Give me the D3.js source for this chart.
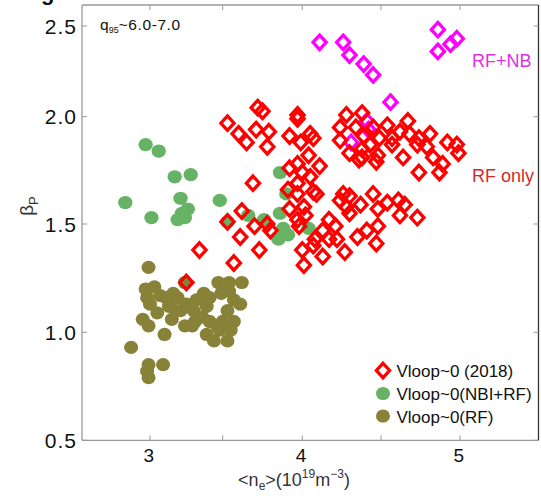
<!DOCTYPE html>
<html><head><meta charset="utf-8">
<script src="https://cdn.jsdelivr.net/npm/d3@7"></script>
<style>
html,body{margin:0;padding:0;background:#fff;}
svg{display:block;font-family:"Liberation Sans",Arial,Helvetica,sans-serif;}
</style></head>
<body>
<svg id="chart" width="541" height="501"></svg>
<script>
// ---- data: [ <n_e> (1e19 m^-3), beta_P ] ----
const rfOnly = [ // Vloop~0(RF), olive
 [2.99,1.30],[2.97,1.20],[3.03,1.21],[2.98,1.16],[3.07,1.17],[3.11,1.16],[3.16,1.18],[3.19,1.16],
 [3.13,1.12],[3.15,1.06],[3.21,1.10],[3.24,1.23],[3.25,1.13],[3.30,1.10],[3.24,1.03],[3.31,1.05],
 [3.37,1.18],[3.39,1.12],[3.36,1.07],[3.41,1.05],[3.47,1.23],[3.54,1.23],[3.62,1.23],[3.49,1.18],
 [3.57,1.15],[3.61,1.13],[3.53,1.10],[3.57,1.05],[3.50,1.05],[3.46,1.03],[3.39,0.99],[3.44,0.96],
 [3.53,0.96],[3.48,1.01],[2.95,1.06],[2.99,1.03],[3.10,0.99],[2.87,0.93],[2.99,0.85],[3.09,0.85],
 [2.98,0.82],[2.99,0.79],[3.00,1.13],[3.05,1.09],[3.18,1.10],[3.32,1.15],[3.41,1.16],[3.54,1.19],
 [3.55,1.01],[3.29,1.03]
];
const nbiRf = [ // Vloop~0(NBI+RF), green
 [2.97,1.87],[3.06,1.84],[3.17,1.72],[3.28,1.73],[2.83,1.60],[3.01,1.53],[3.21,1.62],[3.22,1.55],
 [3.26,1.57],[3.19,1.52],[3.24,1.53],[3.48,1.61],[3.86,1.74],[3.53,1.51],[3.66,1.54],[3.76,1.52],
 [3.86,1.55],[3.88,1.48],[3.85,1.43],[3.91,1.45],[3.90,1.64],[4.04,1.48]
];
const rfNb = [ // RF+NB, magenta
 [4.11,2.41],[4.26,2.41],[4.30,2.34],[4.39,2.29],[4.45,2.23],[4.56,2.08],[4.86,2.48],[4.86,2.36],
 [4.94,2.40],[4.98,2.43],[4.41,1.98],[4.42,1.94],[4.31,1.88]
];
const vloop2018 = [ // Vloop~0 (2018), red
 [3.53,1.97],[3.60,1.92],[3.65,1.88],[3.72,2.05],[3.75,2.03],[3.71,1.94],[3.79,1.93],[3.78,1.86],
 [3.97,2.01],[3.97,1.99],[3.92,1.91],[3.99,1.88],[4.05,1.92],[4.07,1.90],
 [3.69,1.69],[4.04,1.82],[3.97,1.78],[4.11,1.77],[3.92,1.76],[4.00,1.74],[4.05,1.72],[3.97,1.69],
 [3.91,1.66],[4.07,1.65],[4.09,1.64],[3.97,1.64],[3.92,1.57],[4.01,1.58],[3.97,1.52],[4.02,1.54],[3.98,1.49],
 [3.62,1.56],[3.53,1.51],[3.70,1.49],[3.78,1.50],[3.80,1.47],[3.61,1.44],[3.73,1.38],[3.57,1.32],
 [3.34,1.38],[3.25,1.23],
 [4.17,1.52],[4.21,1.49],[4.13,1.47],[4.17,1.43],[4.22,1.43],[4.08,1.43],[4.00,1.38],[4.07,1.40],
 [4.13,1.35],[4.01,1.31],[4.27,1.37],
 [4.24,1.61],[4.26,1.64],[4.30,1.63],[4.28,1.58],[4.37,1.59],[4.30,1.55],[4.45,1.64],[4.48,1.57],
 [4.54,1.60],[4.61,1.61],[4.65,1.59],[4.62,1.54],[4.73,1.53],[4.48,1.49],[4.41,1.47],[4.35,1.44],[4.47,1.41],
 [4.28,2.01],[4.38,2.02],[4.24,1.95],[4.34,1.95],[4.45,1.95],[4.54,1.96],[4.67,1.98],[4.62,1.93],
 [4.24,1.89],[4.39,1.91],[4.49,1.90],[4.57,1.90],[4.68,1.92],[4.74,1.90],[4.81,1.92],[4.30,1.83],
 [4.38,1.81],[4.48,1.82],[4.57,1.87],[4.64,1.81],[4.73,1.87],[4.79,1.86],[4.83,1.81],[4.74,1.74],
 [4.89,1.78],[4.87,1.74],[4.92,1.88],[4.98,1.87],[4.99,1.83],[4.43,1.87],[4.47,1.79],[4.36,1.80],[4.38,1.85]
];
const xTicks = [3, 3.5, 4, 4.5, 5];
const xTickLabels = ["3", "", "4", "", "5"];
const yTicks = [0.5, 1.0, 1.5, 2.0, 2.5];
const legendLabels = ["Vloop~0 (2018)", "Vloop~0(NBI+RF)", "Vloop~0(RF)"];

// ---- layout ----
const L = 82, R = 538.5, T = 5, B = 440.3;
const svg = d3.select("#chart");

const x = d3.scaleLinear()
  .domain([2.532, 3, 3.5, 4, 4.5, 5, 5.5])
  .range([L, 150, 222.7, 302.3, 381, 460, R]);
const y = d3.scaleLinear()
  .domain([0.5, 1.0, 1.5, 2.0, 2.5, 2.616])
  .range([B, 332.3, 224, 116.7, 26, T]);

const colors = {red: "#ff0000", magenta: "#ff00ff", green: "#66b366", olive: "#878237"};

// clipped caption fragment at top (as in the source figure)
svg.append("text").attr("x", 41).attr("y", 0).attr("font-size", 22).attr("font-weight", "bold")
  .attr("fill", "#111").text("g");

const plot = svg.append("g");

function diamond(cx, cy, w, h) {
  return `M${cx},${cy - h}L${cx + w},${cy}L${cx},${cy + h}L${cx - w},${cy}Z`;
}

plot.append("g").selectAll("ellipse").data(rfOnly).join("ellipse")
  .attr("cx", d => x(d[0])).attr("cy", d => y(d[1]))
  .attr("rx", 7).attr("ry", 6.6).attr("fill", colors.olive);
plot.append("g").selectAll("ellipse").data(nbiRf).join("ellipse")
  .attr("cx", d => x(d[0])).attr("cy", d => y(d[1]))
  .attr("rx", 7.2).attr("ry", 6.6).attr("fill", colors.green);
plot.append("g").selectAll("path").data(rfNb).join("path")
  .attr("d", d => diamond(x(d[0]), y(d[1]), 6.6, 7.2))
  .attr("fill", "none").attr("stroke", colors.magenta).attr("stroke-width", 3.3);
plot.append("g").selectAll("path").data(vloop2018).join("path")
  .attr("d", d => diamond(x(d[0]), y(d[1]), 6.6, 7.2))
  .attr("fill", "none").attr("stroke", colors.red).attr("stroke-width", 3.3);

// ---- frame & ticks ----
const frame = svg.append("g").attr("fill", "none");
frame.append("line").attr("x1", L).attr("x2", L).attr("y1", T).attr("y2", B).attr("stroke", "#999").attr("stroke-width", 1.3);
frame.append("line").attr("x1", L).attr("x2", R).attr("y1", B).attr("y2", B).attr("stroke", "#999").attr("stroke-width", 1.3);
frame.append("line").attr("x1", L).attr("x2", R).attr("y1", T).attr("y2", T).attr("stroke", "#999").attr("stroke-width", 1.3);
frame.append("line").attr("x1", R).attr("x2", R).attr("y1", T).attr("y2", B).attr("stroke", "#333").attr("stroke-width", 1.3);

const tickLen = 5;
xTicks.forEach((t, i) => {
  const px = x(t);
  frame.append("line").attr("x1", px).attr("x2", px).attr("y1", B).attr("y2", B - tickLen).attr("stroke", "#999");
  frame.append("line").attr("x1", px).attr("x2", px).attr("y1", T).attr("y2", T + tickLen).attr("stroke", "#999");
  if (xTickLabels[i]) {
    svg.append("text").attr("x", px - 1).attr("y", 462).attr("text-anchor", "middle")
      .attr("font-size", 19).attr("letter-spacing", 0.5).attr("fill", "#111").text(xTickLabels[i]);
  }
});
yTicks.forEach(t => {
  const py = y(t);
  frame.append("line").attr("x1", L).attr("x2", L + tickLen).attr("y1", py).attr("y2", py).attr("stroke", "#999");
  frame.append("line").attr("x1", R).attr("x2", R - tickLen).attr("y1", py).attr("y2", py).attr("stroke", "#999");
  svg.append("text").attr("x", 77).attr("y", py + 7.5).attr("text-anchor", "end")
    .attr("font-size", 21).attr("letter-spacing", 1).attr("fill", "#111").text(d3.format(".1f")(t));
});

// ---- axis titles ----
const xl = svg.append("text").attr("x", 294).attr("y", 486).attr("text-anchor", "middle")
  .attr("font-size", 18).attr("fill", "#333");
xl.append("tspan").text("<n");
xl.append("tspan").attr("font-size", 12).attr("dy", 4).text("e");
xl.append("tspan").attr("dy", -4).text(">(10");
xl.append("tspan").attr("font-size", 12).attr("dy", -8).text("19");
xl.append("tspan").attr("dy", 8).text("m");
xl.append("tspan").attr("font-size", 12).attr("dy", -8).text("−3");
xl.append("tspan").attr("dy", 8).text(")");

const yl = svg.append("text").attr("transform", "translate(33,206) rotate(-90)")
  .attr("text-anchor", "middle").attr("font-size", 19).attr("fill", "#333");
yl.append("tspan").text("β");
yl.append("tspan").attr("font-size", 13).attr("dy", 5).text("P");

// ---- annotations ----
const q = svg.append("text").attr("x", 100).attr("y", 30).attr("font-size", 15.5).attr("fill", "#111");
q.append("tspan").text("q");
q.append("tspan").attr("font-size", 9).attr("dy", 3).text("95");
q.append("tspan").attr("dy", -3).attr("letter-spacing", 0.6).text("~6.0-7.0");

svg.append("text").attr("x", 472).attr("y", 67).attr("font-size", 18).attr("fill", "#e02ee0").text("RF+NB");
svg.append("text").attr("x", 472).attr("y", 182).attr("font-size", 18).attr("fill", "#d42a2a").text("RF only");

// ---- legend ----
const lg = svg.append("g");
const legY = [370.5, 393.5, 416];
lg.append("path").attr("d", diamond(383, legY[0], 6.6, 7.2)).attr("fill", "none")
  .attr("stroke", colors.red).attr("stroke-width", 3.3);
lg.append("ellipse").attr("cx", 383).attr("cy", legY[1]).attr("rx", 7).attr("ry", 6.6).attr("fill", colors.green);
lg.append("ellipse").attr("cx", 383).attr("cy", legY[2]).attr("rx", 7).attr("ry", 6.6).attr("fill", colors.olive);
legendLabels.forEach((s, i) => {
  lg.append("text").attr("x", 396.5).attr("y", legY[i] + 6.5).attr("font-size", 17)
    .attr("fill", "#111").text(s);
});
</script>
</body></html>
